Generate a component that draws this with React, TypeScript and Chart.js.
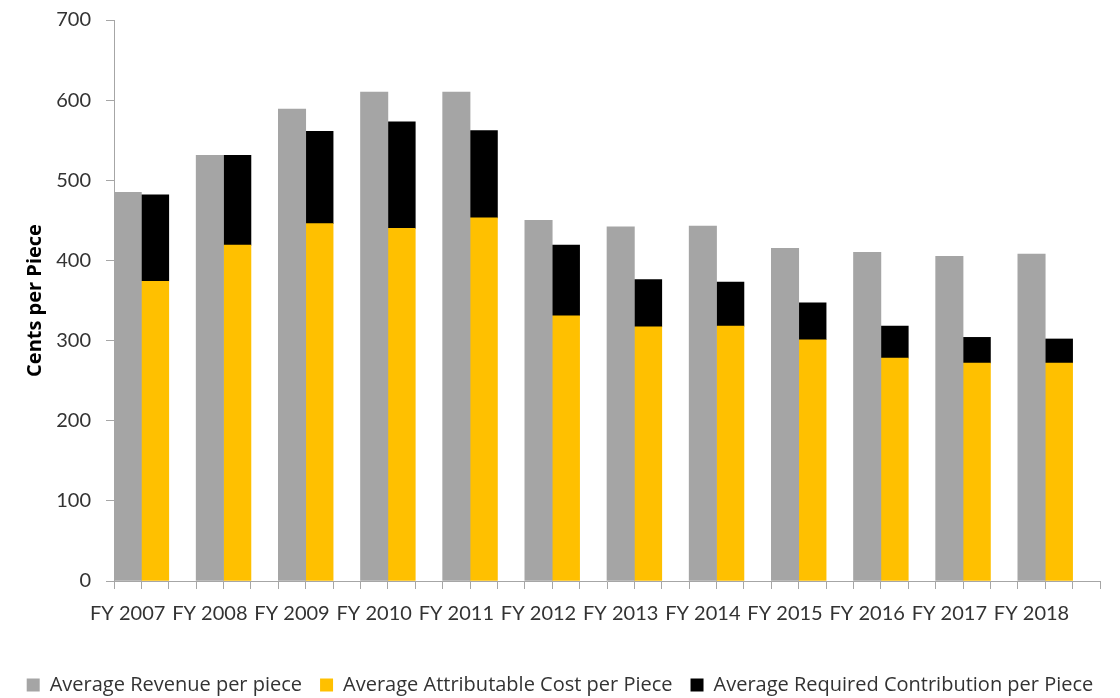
import React, { useEffect, useRef } from 'react';
import { Chart, registerables } from 'chart.js';

Chart.register(...registerables);

const years = ['FY 2007', 'FY 2008', 'FY 2009', 'FY 2010', 'FY 2011', 'FY 2012', 'FY 2013', 'FY 2014', 'FY 2015', 'FY 2016', 'FY 2017', 'FY 2018'];
const revenue = [485, 531, 589, 610, 610, 450, 442, 443, 415, 410, 405, 408];
const attributableCost = [374, 419, 446, 440, 453, 331, 317, 318, 301, 278, 272, 272];
const requiredContribution = [108, 112, 115, 133, 109, 88, 59, 55, 46, 40, 32, 30];
const yTickValues = [0, 100, 200, 300, 400, 500, 600, 700];

const seriesNames = ['Average Revenue per piece', 'Average Attributable Cost per Piece', 'Average Required Contribution per Piece'];
const seriesColors = ['#A5A5A5', '#FFC000', '#000000'];

const FONT = 'Lato, "Open Sans", sans-serif';
const WIDE_FONT = '"Open Sans", Lato, sans-serif';
const TEXT = '#333333';
const AXIS = '#A6A6A6';

export default function App() {
  const ref = useRef<HTMLCanvasElement>(null);

  useEffect(() => {
    const slotLabels = years.flatMap((y) => [y, '', '']);
    const revSlots = revenue.flatMap((v) => [v, null, null]);
    const costSlots = attributableCost.flatMap((v) => [null, v, null]);
    const contribSlots = requiredContribution.flatMap((v) => [null, v, null]);

    const chart = new Chart(ref.current as HTMLCanvasElement, {
      type: 'bar',
      data: {
        labels: slotLabels,
        datasets: [
          { label: seriesNames[0], data: revSlots, backgroundColor: seriesColors[0], stack: 's' },
          { label: seriesNames[1], data: costSlots, backgroundColor: seriesColors[1], stack: 's' },
          { label: seriesNames[2], data: contribSlots, backgroundColor: seriesColors[2], stack: 's' },
        ],
      },
      options: {
        animation: false,
        responsive: false,
        categoryPercentage: 1,
        barPercentage: 1,
        layout: { padding: { top: 20, right: 0, left: 0, bottom: 0 } },
        plugins: {
          tooltip: { enabled: false },
          legend: {
            position: 'bottom',
            labels: {
              boxWidth: 13,
              boxHeight: 13,
              padding: 18,
              color: TEXT,
              font: { family: WIDE_FONT, size: 20 },
            },
          },
        },
        scales: {
          x: {
            stacked: true,
            offset: true,
            grid: { display: true, drawOnChartArea: false, drawTicks: true, tickLength: 8, color: AXIS, offset: true },
            border: { display: true, color: AXIS },
            ticks: {
              autoSkip: false,
              maxRotation: 0,
              minRotation: 0,
              padding: 13,
              color: TEXT,
              font: { family: FONT, size: 20 },
            },
            afterFit: (scale: any) => {
              scale.height = 76;
              scale.paddingRight = 20;
            },
          },
          y: {
            stacked: true,
            min: 0,
            max: 700,
            grid: { display: true, drawOnChartArea: false, drawTicks: true, tickLength: 8, color: AXIS },
            border: { display: true, color: AXIS },
            afterBuildTicks: (scale: any) => {
              scale.ticks = yTickValues.map((v) => ({ value: v }));
            },
            ticks: {
              padding: 15,
              color: TEXT,
              font: { family: FONT, size: 20 },
            },
            title: {
              display: true,
              text: 'Cents per Piece',
              color: '#000000',
              font: { family: WIDE_FONT, size: 20, weight: 'bold' },
              padding: { top: 23, bottom: 0 },
            },
            afterFit: (scale: any) => {
              scale.width = 114;
              scale.paddingTop = 0;
              scale.paddingBottom = 0;
            },
          },
        },
      },
    });
    return () => chart.destroy();
  }, []);

  return (
    <div style={{ position: 'absolute', left: 0, top: 0, width: 1120, height: 698, overflow: 'hidden', background: '#fff' }}>
      <canvas ref={ref} width={1120} height={705} style={{ display: 'block' }} />
    </div>
  );
}
